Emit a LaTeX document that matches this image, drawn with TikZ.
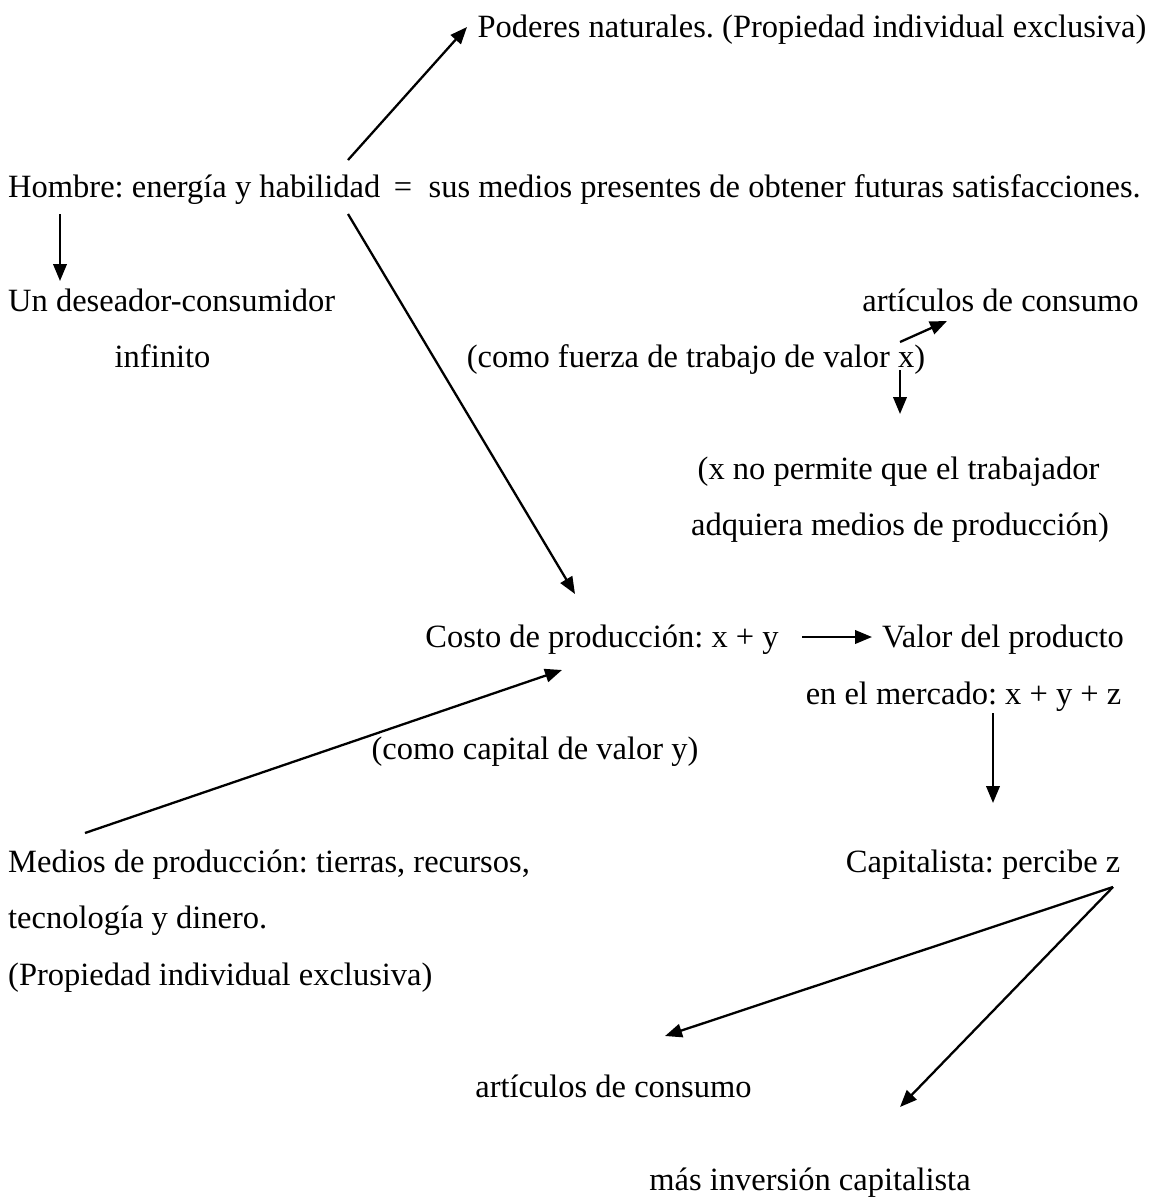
\documentclass[tikz,border=0pt]{standalone}
\usepackage{fontspec}
\setmainfont{Liberation Serif}
\usetikzlibrary{arrows.meta}

\tikzset{
  txt/.style={anchor=base west, inner sep=0pt, font=\fontsize{32.5}{38}\selectfont\frenchspacing},
  ctxt/.style={txt, anchor=base},
  arr/.style={-{Triangle[length=17pt,width=13.5pt]}, line width=2.3pt}
}

\begin{document}
\begin{tikzpicture}[x=1pt,y=-1pt]
  \useasboundingbox (0,0) rectangle (1149,1200);
  % textos
  \node[ctxt] (poderes) at (812,37) {Poderes naturales. (Propiedad individual exclusiva)};
  \node[txt] (hombre) at (8,197) {Hombre: energía y habilidad};
  \node[ctxt] (igual) at (403,197) {=};
  \node[txt, anchor=base east] (sus) at (1141,197) {sus medios presentes de obtener futuras satisfacciones.};
  \node[txt] (deseador) at (8,311) {Un deseador-consumidor};
  \node[ctxt] (infinito) at (162.5,367) {infinito};
  \node[ctxt] (articulos1) at (1000.5,311) {artículos de consumo};
  \node[ctxt] (fuerza) at (696,367) {(como fuerza de trabajo de valor x)};
  \node[ctxt] (xno) at (898.5,479) {(x no permite que el trabajador};
  \node[ctxt] (adquiera) at (900,535) {adquiera medios de producción)};
  \node[ctxt] (costo) at (602,647) {Costo de producción: x + y};
  \node[ctxt] (valor) at (1003,647) {Valor del producto};
  \node[ctxt] (mercado) at (963.5,704) {en el mercado: x + y + z};
  \node[ctxt] (capital) at (535,759) {(como capital de valor y)};
  \node[txt] (medios) at (8,872) {Medios de producción: tierras, recursos,};
  \node[ctxt] (capitalista) at (983,872) {Capitalista: percibe z};
  \node[txt] (tecno) at (8,928) {tecnología y dinero.};
  \node[txt] (propiedad) at (8,985) {(Propiedad individual exclusiva)};
  \node[ctxt] (articulos2) at (613.5,1097) {artículos de consumo};
  \node[ctxt] (mas) at (810,1190) {más inversión capitalista};
  % flechas
  \draw[arr] ([shift={(340,-37)}]hombre.base west) -- ([shift={(-345,-10)}]poderes.base);
  \draw[arr] ([shift={(340,17)}]hombre.base west) -- ([shift={(-27,-53)}]costo.base);
  \draw[arr] ([shift={(52,17)}]hombre.base west) -- ([shift={(52,-30)}]deseador.base west);
  \draw[arr] ([shift={(204,-25)}]fuerza.base) -- ([shift={(-53.5,10)}]articulos1.base);
  \draw[arr] ([shift={(204,3)}]fuerza.base) -- ([shift={(1.5,-65)}]xno.base);
  \draw[arr] ([shift={(200,-10)}]costo.base) -- ([shift={(-131,-10)}]valor.base);
  \draw[arr] ([shift={(29.5,9)}]mercado.base) -- ([shift={(10,-69)}]capitalista.base);
  \draw[arr] ([shift={(77,-39)}]medios.base west) -- ([shift={(-40,23)}]costo.base);
  \draw[arr] ([shift={(130,15)}]capitalista.base) -- ([shift={(51.5,-61)}]articulos2.base);
  \draw[arr] ([shift={(130,15)}]capitalista.base) -- ([shift={(90,-83)}]mas.base);
\end{tikzpicture}
\end{document}
